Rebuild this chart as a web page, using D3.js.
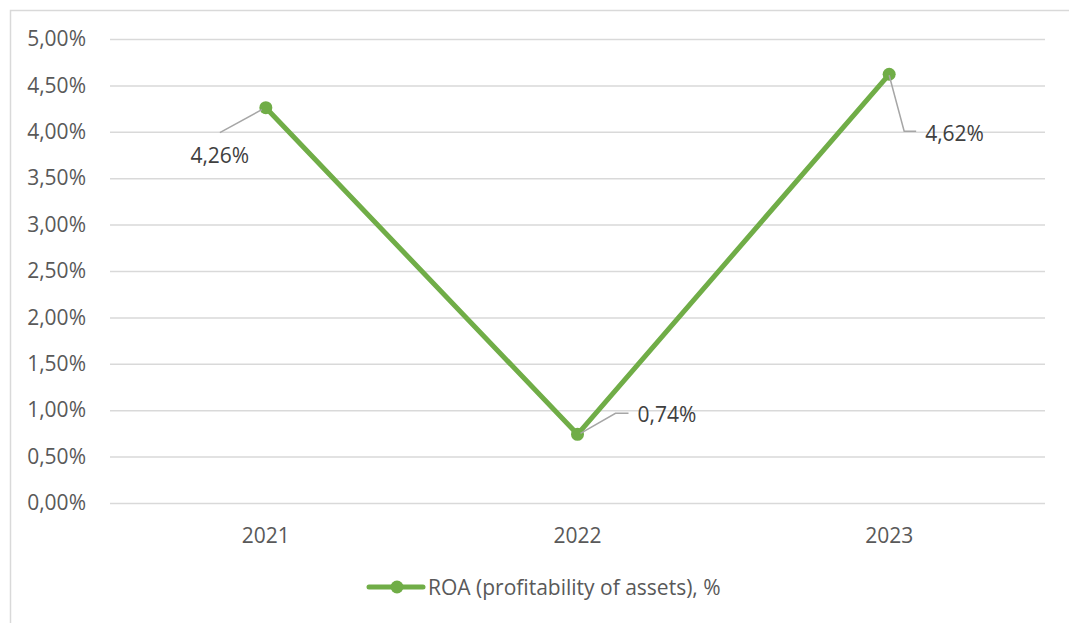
<!DOCTYPE html>
<html>
<head>
<meta charset="utf-8">
<script src="https://cdn.jsdelivr.net/npm/d3@7"></script>
<style>
  html, body { margin: 0; padding: 0; background: #fff; }
  svg { display: block; }
  text { font-family: "Open Sans", "Noto Sans", sans-serif; fill: #595959; }
</style>
</head>
<body>
<svg id="chart" width="1069" height="623"></svg>
<script>
// ROA by year
const years = ["2021", "2022", "2023"];
const roa = [4.26, 0.74, 4.62];
const yTicks = [0, 0.5, 1, 1.5, 2, 2.5, 3, 3.5, 4, 4.5, 5];
const seriesName = "ROA (profitability of assets), %";

const W = 1069, H = 623;
const plot = { left: 110, right: 1045, top: 39, bottom: 503 };
const green = "#70AD47";
const fontSize = 21;

const svg = d3.select("#chart");

// Chart area frame (left and top edges)
svg.append("path")
  .attr("d", `M10.5,${H} V10.5 H${W}`)
  .attr("fill", "none")
  .attr("stroke", "#d9d9d9")
  .attr("stroke-width", 1.5);

const x = d3.scaleBand().domain(years).range([plot.left, plot.right]);
const y = d3.scaleLinear().domain([0, 5]).range([plot.bottom, plot.top]);

const fmt = v => d3.format(".2f")(v).replace(".", ",") + "%";

// Horizontal gridlines with tick labels
const yAxis = d3.axisLeft(y)
  .tickValues(yTicks)
  .tickFormat(fmt)
  .tickSize(-(plot.right - plot.left))
  .tickPadding(24);

const gy = svg.append("g")
  .attr("transform", `translate(${plot.left},0)`)
  .call(yAxis);
gy.select(".domain").remove();
gy.selectAll(".tick line").attr("stroke", "#d9d9d9").attr("stroke-width", 1.5);
gy.selectAll(".tick text")
  .style("font-size", fontSize + "px")
  .attr("fill", "#595959");

// Category axis labels
const xAxis = d3.axisBottom(x).tickSize(0).tickPadding(25);
const gx = svg.append("g")
  .attr("transform", `translate(0,${plot.bottom})`)
  .call(xAxis);
gx.select(".domain").remove();
gx.selectAll(".tick text")
  .style("font-size", fontSize + "px")
  .attr("fill", "#595959");

const cx = d => x(d) + x.bandwidth() / 2;
const pts = years.map((yr, i) => ({ yr, v: roa[i], px: cx(yr), py: y(roa[i]) }));

// Series line and markers
svg.append("path")
  .datum(pts)
  .attr("d", d3.line().x(d => d.px).y(d => d.py))
  .attr("fill", "none")
  .attr("stroke", green)
  .attr("stroke-width", 5)
  .attr("stroke-linejoin", "round")
  .attr("stroke-linecap", "round");

svg.selectAll("circle.pt")
  .data(pts)
  .join("circle")
  .attr("class", "pt")
  .attr("cx", d => d.px)
  .attr("cy", d => d.py)
  .attr("r", 6.5)
  .attr("fill", green);

// Data labels with leader lines (offsets relative to each point)
const labelLayout = [
  { leader: [[-4, 2], [-46, 25]], text: [-46, 47], anchor: "middle" },
  { leader: [[3, -1], [38, -21], [51, -21]], text: [60, -20], anchor: "start" },
  { leader: [[0, 1], [15, 57], [27, 57]], text: [36, 59], anchor: "start" }
];

pts.forEach((p, i) => {
  const L = labelLayout[i];
  svg.append("path")
    .attr("d", d3.line()(L.leader.map(o => [p.px + o[0], p.py + o[1]])))
    .attr("fill", "none")
    .attr("stroke", "#a6a6a6")
    .attr("stroke-width", 1.5);
  svg.append("text")
    .attr("x", p.px + L.text[0])
    .attr("y", p.py + L.text[1])
    .attr("text-anchor", L.anchor)
    .attr("dominant-baseline", "central")
    .style("font-size", fontSize + "px")
    .style("fill", "#404040")
    .text(fmt(p.v));
});

// Legend
const lg = svg.append("g").attr("transform", "translate(0,587)");
lg.append("line")
  .attr("x1", 369).attr("x2", 423).attr("y1", 0).attr("y2", 0)
  .attr("stroke", green).attr("stroke-width", 5).attr("stroke-linecap", "round");
lg.append("circle").attr("cx", 397).attr("cy", 0).attr("r", 6.5).attr("fill", green);
lg.append("text")
  .attr("x", 428).attr("y", 0)
  .attr("dominant-baseline", "central")
  .style("font-size", fontSize + "px")
  .text(seriesName);
</script>
</body>
</html>
